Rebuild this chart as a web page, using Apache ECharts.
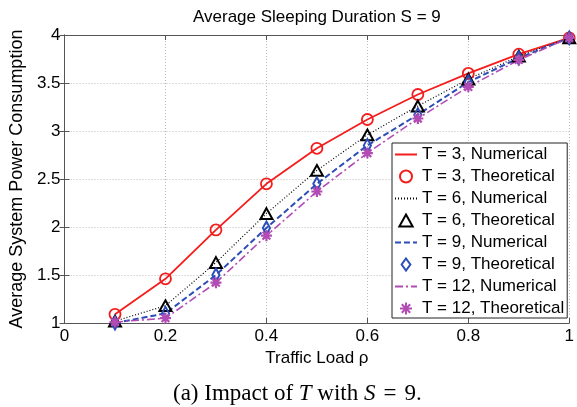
<!DOCTYPE html>
<html>
<head>
<meta charset="utf-8">
<script src="https://cdn.jsdelivr.net/npm/echarts@6/dist/echarts.min.js"></script>
<style>
  html, body { margin: 0; padding: 0; background: #fff; }
  #chart { width: 577px; height: 407px; }
</style>
</head>
<body>
<div id="chart"></div>
<script>
// Traffic load values (x axis)
const load = [0.1, 0.2, 0.3, 0.4, 0.5, 0.6, 0.7, 0.8, 0.9, 1.0];

// Average system power consumption for each sleeping-timer length T
const numT3  = [1.09, 1.46, 1.97, 2.45, 2.82, 3.12, 3.38, 3.60, 3.80, 3.97];
const thT3   = [1.09, 1.46, 1.97, 2.45, 2.82, 3.12, 3.38, 3.60, 3.80, 3.97];
const numT6  = [1.02, 1.18, 1.63, 2.14, 2.59, 2.96, 3.26, 3.54, 3.78, 3.97];
const thT6   = [1.02, 1.18, 1.63, 2.14, 2.59, 2.96, 3.26, 3.54, 3.78, 3.97];
const numT9  = [1.00, 1.10, 1.50, 1.99, 2.45, 2.85, 3.17, 3.51, 3.76, 3.97];
const thT9   = [1.00, 1.10, 1.50, 1.99, 2.45, 2.85, 3.17, 3.51, 3.76, 3.97];
const numT12 = [1.01, 1.05, 1.42, 1.91, 2.37, 2.77, 3.13, 3.46, 3.74, 3.97];
const thT12  = [1.01, 1.05, 1.42, 1.91, 2.37, 2.77, 3.13, 3.46, 3.74, 3.97];

const seriesNames = [
  'T = 3, Numerical', 'T = 3, Theoretical',
  'T = 6, Numerical', 'T = 6, Theoretical',
  'T = 9, Numerical', 'T = 9, Theoretical',
  'T = 12, Numerical', 'T = 12, Theoretical'
];

const xTicks = ['0', '0.2', '0.4', '0.6', '0.8', '1'];
const yTicks = ['1', '1.5', '2', '2.5', '3', '3.5', '4'];

const pairs = (ys) => load.map((x, i) => [x, ys[i]]);

const FONT = 'Liberation Sans, Arial, Helvetica, sans-serif';
const SERIF = '"Liberation Serif", "Times New Roman", serif';
const AXIS_COLOR = '#555';
const RED = '#f51c1c';
const BLACK = '#000';
const BLUE = '#2c4cb8';
const MAGENTA = '#b24cb4';

// marker outlines as paths so the legend keeps their proportions
const triangle = 'path://M5,0L10,9L0,9Z';
const diamond = 'path://M4,0L8,5.5L4,11L0,5.5Z';
const asterisk = 'path://M5,0L5,10M0,5L10,5M1.5,1.5L8.5,8.5M1.5,8.5L8.5,1.5';

function lineSeries(name, ys, color, type, width) {
  return {
    name, type: 'line', data: pairs(ys),
    symbol: 'none', z: 2,
    lineStyle: { color, type, width },
    itemStyle: { color }
  };
}
function markerSeries(name, ys, symbol, size, color, bw) {
  return {
    name, type: 'scatter', data: pairs(ys),
    symbol, symbolSize: size, symbolKeepAspect: true, z: 3,
    itemStyle: { color: 'rgba(255,255,255,0)', borderColor: color, borderWidth: bw, opacity: 1 }
  };
}

// legend entries: line-only entries hide the legend symbol
const legendData = seriesNames.map((name) =>
  name.indexOf('Numerical') >= 0 ? { name, itemStyle: { opacity: 0 } } : { name }
);

const chart = echarts.init(document.getElementById('chart'), null, { renderer: 'canvas' });

const baseX = { type: 'value', min: 0, max: 1, interval: 0.2 };
const baseY = { type: 'value', min: 1, max: 4, interval: 0.5 };
const tickStyle = { show: true, inside: true, length: 5, lineStyle: { color: AXIS_COLOR } };
const lineStyleAxis = { show: true, lineStyle: { color: AXIS_COLOR, width: 1 } };
const gridLine = { show: true, lineStyle: { color: '#bbb', type: [1, 2], width: 1 } };

chart.setOption({
  animation: false,
  backgroundColor: '#fff',
  title: {
    text: 'Average Sleeping Duration S = 9',
    left: 188, top: 4,
    textStyle: { fontFamily: FONT, fontSize: 17, fontWeight: 'normal', color: '#000' }
  },
  grid: { left: 56, right: 2, top: 35, bottom: 84 },
  xAxis: [
    Object.assign({}, baseX, {
      position: 'bottom',
      name: 'Traffic Load \u03c1', nameLocation: 'middle', nameGap: 23,
      nameTextStyle: { fontFamily: FONT, fontSize: 17, color: '#000' },
      axisLine: lineStyleAxis,
      axisTick: tickStyle,
      axisLabel: {
        margin: 5, fontFamily: FONT, fontSize: 17, color: '#000',
        formatter: (v) => xTicks[Math.round(v / 0.2)]
      },
      splitLine: gridLine
    }),
    Object.assign({}, baseX, {
      position: 'top',
      axisLine: lineStyleAxis,
      axisTick: tickStyle,
      axisLabel: { show: false },
      splitLine: { show: false }
    })
  ],
  yAxis: [
    Object.assign({}, baseY, {
      position: 'left',
      name: 'Average System Power Consumption', nameLocation: 'middle', nameGap: 30,
      nameTextStyle: { fontFamily: FONT, fontSize: 18, color: '#000' },
      axisLine: lineStyleAxis,
      axisTick: tickStyle,
      axisLabel: {
        margin: 4, fontFamily: FONT, fontSize: 17, color: '#000',
        formatter: (v) => yTicks[Math.round((v - 1) / 0.5)]
      },
      splitLine: gridLine
    }),
    Object.assign({}, baseY, {
      position: 'right',
      axisLine: lineStyleAxis,
      axisTick: tickStyle,
      axisLabel: { show: false },
      splitLine: { show: false }
    })
  ],
  legend: {
    orient: 'vertical',
    left: 392, top: 143,
    padding: [3, 3, 1, 2],
    itemWidth: 22, itemHeight: 12, itemGap: 5,
    symbolKeepAspect: true,
    backgroundColor: '#fff',
    borderColor: '#222', borderWidth: 1,
    borderRadius: 0,
    textStyle: { fontFamily: FONT, fontSize: 17, color: '#000' },
    data: legendData
  },
  series: [
    lineSeries(seriesNames[0], numT3, RED, 'solid', 1.8),
    markerSeries(seriesNames[1], thT3, 'circle', 11, RED, 1.8),
    lineSeries(seriesNames[2], numT6, BLACK, [1, 2], 1.2),
    markerSeries(seriesNames[3], thT6, triangle, 12, BLACK, 2),
    lineSeries(seriesNames[4], numT9, BLUE, [6, 3], 2),
    markerSeries(seriesNames[5], thT9, diamond, [10, 13], BLUE, 2),
    lineSeries(seriesNames[6], numT12, MAGENTA, [8, 3, 2, 3], 1.6),
    markerSeries(seriesNames[7], thT12, asterisk, 11, MAGENTA, 2.2)
  ],
  graphic: [{
    type: 'text',
    left: 173, top: 382,
    style: {
      text: '(a) Impact of {i|T} with {i|S}{eq|=}9.',
      font: '23px ' + SERIF,
      fill: '#000',
      rich: {
        i: { fontStyle: 'italic', fontSize: 23, fontFamily: SERIF },
        eq: { fontSize: 23, fontFamily: SERIF, padding: [0, 8, 0, 8] }
      }
    }
  }]
});
</script>
</body>
</html>
